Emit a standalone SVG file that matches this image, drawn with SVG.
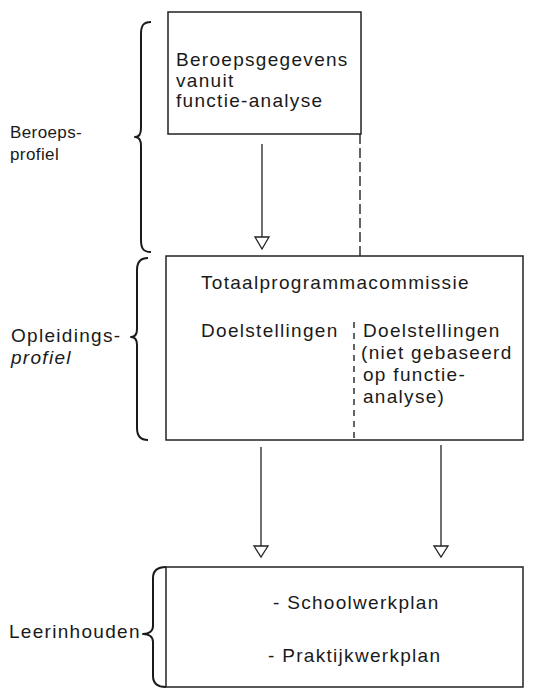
<svg xmlns="http://www.w3.org/2000/svg" width="533" height="688" viewBox="0 0 533 688">
<defs>
<style>
.box{fill:none;stroke:#222;stroke-width:1.5}
.t{font-family:"Liberation Sans",Arial,sans-serif;font-size:19px;letter-spacing:1.3px;fill:#1a1a1a}
.s{font-family:"Liberation Sans",Arial,sans-serif;font-size:17px;letter-spacing:0.4px;fill:#1a1a1a}
.line{fill:none;stroke:#222;stroke-width:1.3}
.dash{fill:none;stroke:#222;stroke-width:1.4;stroke-dasharray:10 4}
.dash2{fill:none;stroke:#222;stroke-width:1.4;stroke-dasharray:6 5}
.brace{fill:none;stroke:#1a1a1a;stroke-width:2;stroke-linejoin:round}
.head{fill:#fff;stroke:#222;stroke-width:1.3;stroke-linejoin:miter}
</style>
</defs>
<rect width="533" height="688" fill="#fff"/>

<g id="label-beroepsprofiel">
<path class="brace" d="M151,22 C143,22 141,26 141,34 L141,128 C141,134 139,137 135,137 C139,137 141,140 141,146 L141,240 C141,248 143,252 151,252"/>
<text class="s" x="10" y="138">Beroeps-</text>
<text class="s" x="10" y="160">profiel</text>
</g>

<g id="label-opleidingsprofiel">
<path class="brace" d="M148,258 C140,258 137,262 137,270 L137,329 C137,334 135,337 131,337 C135,337 137,340 137,345 L137,428 C137,436 140,440 148,440"/>
<text class="t" x="11" y="342">Opleidings-</text>
<text class="t" x="11" y="364" font-style="italic">profiel</text>
</g>

<g id="label-leerinhouden">
<path class="brace" stroke-width="3" d="M166,567 C157,567 153,571 153,578 L153,626 C153,631 149,634 143,634 C149,634 153,637 153,642 L153,676 C153,683 157,687 166,687"/>
<text class="t" x="9" y="638">Leerinhouden</text>
</g>

<g id="node-beroepsgegevens">
<rect class="box" x="168" y="12" width="193" height="122"/>
<text class="t" x="176" y="66">Beroepsgegevens</text>
<text class="t" x="176" y="87">vanuit</text>
<text class="t" x="176" y="107">functie-analyse</text>
</g>

<g id="node-totaalprogrammacommissie">
<rect class="box" x="166" y="256" width="357" height="184"/>
<text class="t" x="201" y="289">Totaalprogrammacommissie</text>
<text class="t" x="201" y="337">Doelstellingen</text>
<line class="dash2" x1="354" y1="322" x2="354" y2="440"/>
<text class="t" x="363" y="337">Doelstellingen</text>
<text class="t" x="361" y="359">(niet gebaseerd</text>
<text class="t" x="363" y="381">op functie-</text>
<text class="t" x="363" y="403">analyse)</text>
</g>

<g id="node-leerinhouden">
<rect class="box" x="166" y="567" width="357" height="120"/>
<text class="t" x="273" y="609" letter-spacing="0.4">- Schoolwerkplan</text>
<text class="t" x="268" y="662" letter-spacing="0.4">- Praktijkwerkplan</text>
</g>

<g id="connectors">
<line class="dash" x1="360" y1="134" x2="360" y2="256"/>
<line class="line" x1="262" y1="144" x2="262" y2="237"/>
<polygon class="head" points="255,237 269,237 262,249"/>
<line class="line" x1="261" y1="447" x2="261" y2="546"/>
<polygon class="head" points="254,546 268,546 261,557"/>
<line class="line" x1="441" y1="445" x2="441" y2="546"/>
<polygon class="head" points="434,546 448,546 441,557"/>
</g>
</svg>
